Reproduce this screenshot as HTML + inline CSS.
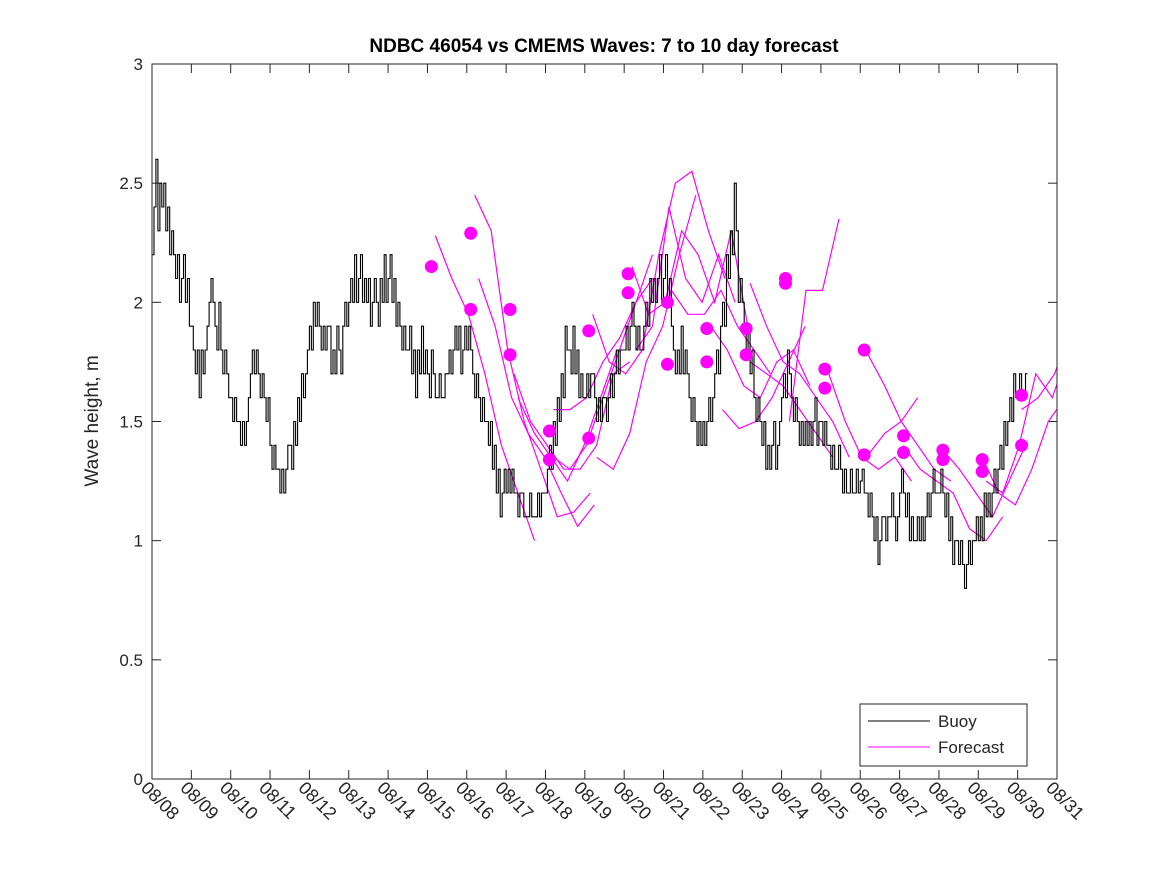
<!DOCTYPE html>
<html><head><meta charset="utf-8"><style>
body{margin:0;background:#fff;}
svg{display:block;font-family:"Liberation Sans","DejaVu Sans",sans-serif;}
</style></head><body>
<svg id="chart" width="1167" height="875">
<defs><clipPath id="plotclip"><rect x="152" y="64" width="905" height="715"/></clipPath></defs>
<rect width="1167" height="875" fill="#fff"/>
<text x="604" y="52" text-anchor="middle" font-size="19" font-weight="bold">NDBC 46054 vs CMEMS Waves: 7 to 10 day forecast</text>
<text transform="translate(98,421) rotate(-90)" text-anchor="middle" font-size="19" fill="#262626">Wave height, m</text>
<g id="axes"></g>
<g id="series" clip-path="url(#plotclip)"></g>
<rect x="152" y="64" width="905" height="715" fill="none" stroke="#262626" stroke-width="1"/>
<g>
<rect x="860" y="704" width="167" height="62" fill="#fff" stroke="#262626"/>
<line x1="868" y1="721" x2="930" y2="721" stroke="#000"/>
<text x="938" y="727" font-size="17" fill="#262626">Buoy</text>
<line x1="868" y1="747" x2="930" y2="747" stroke="#f0f"/>
<text x="938" y="753" font-size="17" fill="#262626">Forecast</text>
</g>
</svg>
<script>
const xTickLabels=["08/08","08/09","08/10","08/11","08/12","08/13","08/14","08/15","08/16","08/17","08/18","08/19","08/20","08/21","08/22","08/23","08/24","08/25","08/26","08/27","08/28","08/29","08/30","08/31"];
const yTicks=[0,0.5,1,1.5,2,2.5,3];
const buoyStep=0.05;
const buoyValues=[2.2,2.4,2.6,2.3,2.5,2.4,2.5,2.3,2.4,2.2,2.3,2.2,2.1,2.2,2.0,2.1,2.2,2.0,2.1,1.9,
1.9,1.8,1.7,1.8,1.6,1.8,1.7,1.8,1.9,2.0,2.1,2.0,1.9,1.8,2.0,1.8,1.7,1.8,1.7,1.6,
1.6,1.5,1.6,1.5,1.5,1.4,1.5,1.4,1.5,1.6,1.7,1.8,1.7,1.8,1.7,1.6,1.7,1.6,1.5,1.6,
1.4,1.3,1.4,1.3,1.3,1.2,1.3,1.2,1.3,1.4,1.4,1.3,1.5,1.4,1.6,1.5,1.7,1.6,1.7,1.8,
1.9,1.8,2.0,1.9,2.0,1.9,1.8,1.9,1.8,1.9,1.9,1.7,1.8,1.7,1.9,1.8,1.7,1.9,2.0,1.9,
2.0,2.1,2.0,2.2,2.0,2.1,2.2,2.0,2.1,2.0,2.1,1.9,2.0,2.1,2.0,1.9,2.1,2.0,2.2,2.0,
2.1,2.2,2.0,2.1,1.9,2.0,1.9,1.8,1.9,1.8,1.8,1.9,1.7,1.8,1.6,1.8,1.7,1.9,1.7,1.8,
1.7,1.6,1.8,1.7,1.6,1.6,1.7,1.6,1.6,1.7,1.7,1.8,1.7,1.8,1.9,1.8,1.9,1.7,1.8,1.9,
1.8,1.9,1.8,1.7,1.6,1.7,1.6,1.5,1.6,1.5,1.5,1.4,1.5,1.3,1.4,1.2,1.3,1.1,1.2,1.3,
1.2,1.3,1.2,1.3,1.2,1.2,1.1,1.2,1.2,1.1,1.1,1.1,1.2,1.1,1.1,1.1,1.2,1.1,1.2,1.2,
1.2,1.3,1.4,1.3,1.5,1.4,1.6,1.5,1.7,1.6,1.9,1.8,1.8,1.7,1.9,1.7,1.8,1.6,1.7,1.6,
1.6,1.7,1.6,1.7,1.7,1.6,1.5,1.6,1.5,1.6,1.6,1.5,1.6,1.7,1.6,1.7,1.8,1.7,1.8,1.8,
1.8,1.9,1.8,1.9,2.0,1.9,1.8,1.9,1.8,1.8,1.9,2.0,1.9,2.1,2.0,2.1,2.0,2.1,2.2,2.0,
2.1,2.2,2.0,2.1,1.9,1.8,1.7,1.8,1.7,1.9,1.7,1.8,1.7,1.6,1.5,1.6,1.5,1.4,1.5,1.4,
1.5,1.4,1.5,1.6,1.5,1.6,1.7,1.8,1.7,1.9,2.0,1.9,2.2,2.1,2.3,2.2,2.5,2.3,2.0,2.1,
2.0,1.9,1.8,1.9,1.7,1.8,1.6,1.5,1.6,1.5,1.4,1.5,1.3,1.4,1.3,1.4,1.5,1.3,1.4,1.5,
1.6,1.7,1.6,1.8,1.7,1.6,1.5,1.6,1.5,1.4,1.5,1.4,1.5,1.4,1.5,1.4,1.5,1.6,1.4,1.5,
1.5,1.4,1.5,1.4,1.4,1.3,1.4,1.3,1.3,1.4,1.3,1.2,1.3,1.2,1.2,1.3,1.2,1.2,1.3,1.2,
1.25,1.3,1.2,1.2,1.1,1.2,1.1,1.0,1.1,0.9,1.0,1.1,1.1,1.0,1.1,1.1,1.2,1.1,1.0,1.1,
1.2,1.3,1.2,1.1,1.2,1.0,1.1,1.0,1.0,1.1,1.0,1.1,1.0,1.1,1.2,1.1,1.2,1.3,1.2,1.2,
1.2,1.3,1.2,1.1,1.2,1.0,1.1,0.9,1.0,1.0,0.9,1.0,0.9,0.8,0.9,1.0,0.9,1.0,1.0,1.1,
1.0,1.1,1.0,1.2,1.1,1.2,1.1,1.2,1.3,1.2,1.3,1.4,1.3,1.5,1.4,1.5,1.6,1.5,1.7,1.6,
1.6,1.7,1.6,1.6,1.7];
const forecastStarts=[7.2,8.2,8.3,9.2,9.3,10.2,10.2,11.2,11.3,12.2,12.3,13.2,14.2,14.5,15.2,15.2,16.2,17.2,18.2,18.2,19.1,20.1,21.1,21.2,22.1];
const forecastValues=[
[2.28,2.1,1.95,1.7,1.4,1.2,1.0],
[2.45,2.3,1.8,1.5,1.3,1.1,1.12,1.2],
[2.1,1.9,1.6,1.45,1.35,1.2,1.06,1.15],
[1.7,1.5,1.4,1.3,1.3,1.4,1.7,1.75],
[1.6,1.45,1.35,1.25,1.4,1.6,1.8],
[1.55,1.55,1.6,1.75,1.85,2.0,2.2],
[1.35,1.3,1.4,1.6,1.8,2.0,2.1],
[1.95,1.75,1.7,1.8,2.2,2.5,2.55,2.3,2.1],
[1.35,1.3,1.45,1.75,1.9,2.2,2.45],
[2.15,1.95,2.0,2.3,2.2,2.0,2.3,1.9],
[1.8,1.9,2.4,2.1,2.0,2.2,2.0],
[2.05,1.95,1.95,2.05,1.9,1.8,1.7],
[1.9,1.8,1.65,1.6,1.75,1.8,1.65],
[1.55,1.47,1.5,1.6,1.75,1.9],
[2.08,1.9,1.75,1.7,1.6,1.5,1.35],
[1.75,1.7,1.65,1.55,1.45,1.35],
[1.5,2.05,2.05,2.35],
[1.7,1.5,1.35,1.3,1.35,1.25],
[1.78,1.65,1.5,1.4,1.3,1.25],
[1.36,1.45,1.5,1.6],
[1.4,1.3,1.25,1.2,1.05,1.0,1.1],
[1.38,1.3,1.2,1.1,1.25,1.4],
[1.35,1.2,1.15,1.3,1.5,1.6,1.8,2.1],
[1.25,1.2,1.4,1.7,1.6,1.8,1.7],
[1.55,1.6,1.7,1.9]];
const forecastStep=0.42;
const dotDays=[7.1,8.1,8.1,9.1,9.1,10.1,10.1,11.1,11.1,12.1,12.1,13.1,13.1,14.1,14.1,15.1,15.1,16.1,16.1,17.1,17.1,18.1,18.1,19.1,19.1,20.1,20.1,21.1,21.1,22.1,22.1];
const dotValues=[2.15,2.29,1.97,1.97,1.78,1.46,1.34,1.88,1.43,2.12,2.04,2.0,1.74,1.89,1.75,1.89,1.78,2.1,2.08,1.72,1.64,1.8,1.36,1.44,1.37,1.38,1.34,1.34,1.29,1.61,1.40];

const X0=152,X1=1057,Y0=779,Y1=64;
const xs=d=>X0+d*(X1-X0)/23;
const ys=v=>Y0-v*(Y0-Y1)/3;
const NS="http://www.w3.org/2000/svg";
const axes=document.getElementById('axes');
const series=document.getElementById('series');
function mk(tag,attrs,parent){const e=document.createElementNS(NS,tag);for(const k in attrs)e.setAttribute(k,attrs[k]);parent.appendChild(e);return e;}

xTickLabels.forEach((lab,i)=>{
  const x=xs(i);
  const t1=mk('line',{x1:x,y1:Y0,x2:x,y2:Y0-9,stroke:'#262626'},axes);
  
  
  mk('line',{x1:x,y1:Y1,x2:x,y2:Y1+9,stroke:'#262626'},axes);
  const t=mk('text',{x:0,y:0,'font-size':18,fill:'#262626',transform:`translate(${x-12},${Y0+10}) rotate(45)`},axes);
  t.textContent=lab;
  
  
});
yTicks.forEach(v=>{
  const y=ys(v);
  const l=mk('line',{x1:X0,y1:y,x2:X0+9,y2:y,stroke:'#262626'},axes);
  
  
  mk('line',{x1:X1,y1:y,x2:X1-9,y2:y,stroke:'#262626'},axes);
  const t=mk('text',{x:X0-9,y:y+6,'text-anchor':'end','font-size':17,fill:'#262626'},axes);
  t.textContent=String(v);
  
  
});

forecastValues.forEach((vals,i)=>{
  const pts=vals.map((v,j)=>xs(forecastStarts[i]+j*forecastStep).toFixed(1)+','+ys(v).toFixed(1)).join(' ');
  const p=mk('polyline',{points:pts,fill:'none',stroke:'#ff00ff','stroke-width':1.2},series);
  
  
});

let d='';
buoyValues.forEach((v,i)=>{
  const x=xs(i*buoyStep), y=ys(v);
  d+= (i===0?`M${x.toFixed(1)},${y.toFixed(1)}`:`V${y.toFixed(1)}`)+`H${xs((i+1)*buoyStep).toFixed(1)}`;
});
const bp=mk('path',{d:d,fill:'none',stroke:'#000','stroke-width':1.1},series);



dotDays.forEach((dd,i)=>{
  const c=mk('circle',{cx:xs(dd),cy:ys(dotValues[i]),r:6.5,fill:'#ff00ff'},series);
  
  
});
</script>
</body></html>
